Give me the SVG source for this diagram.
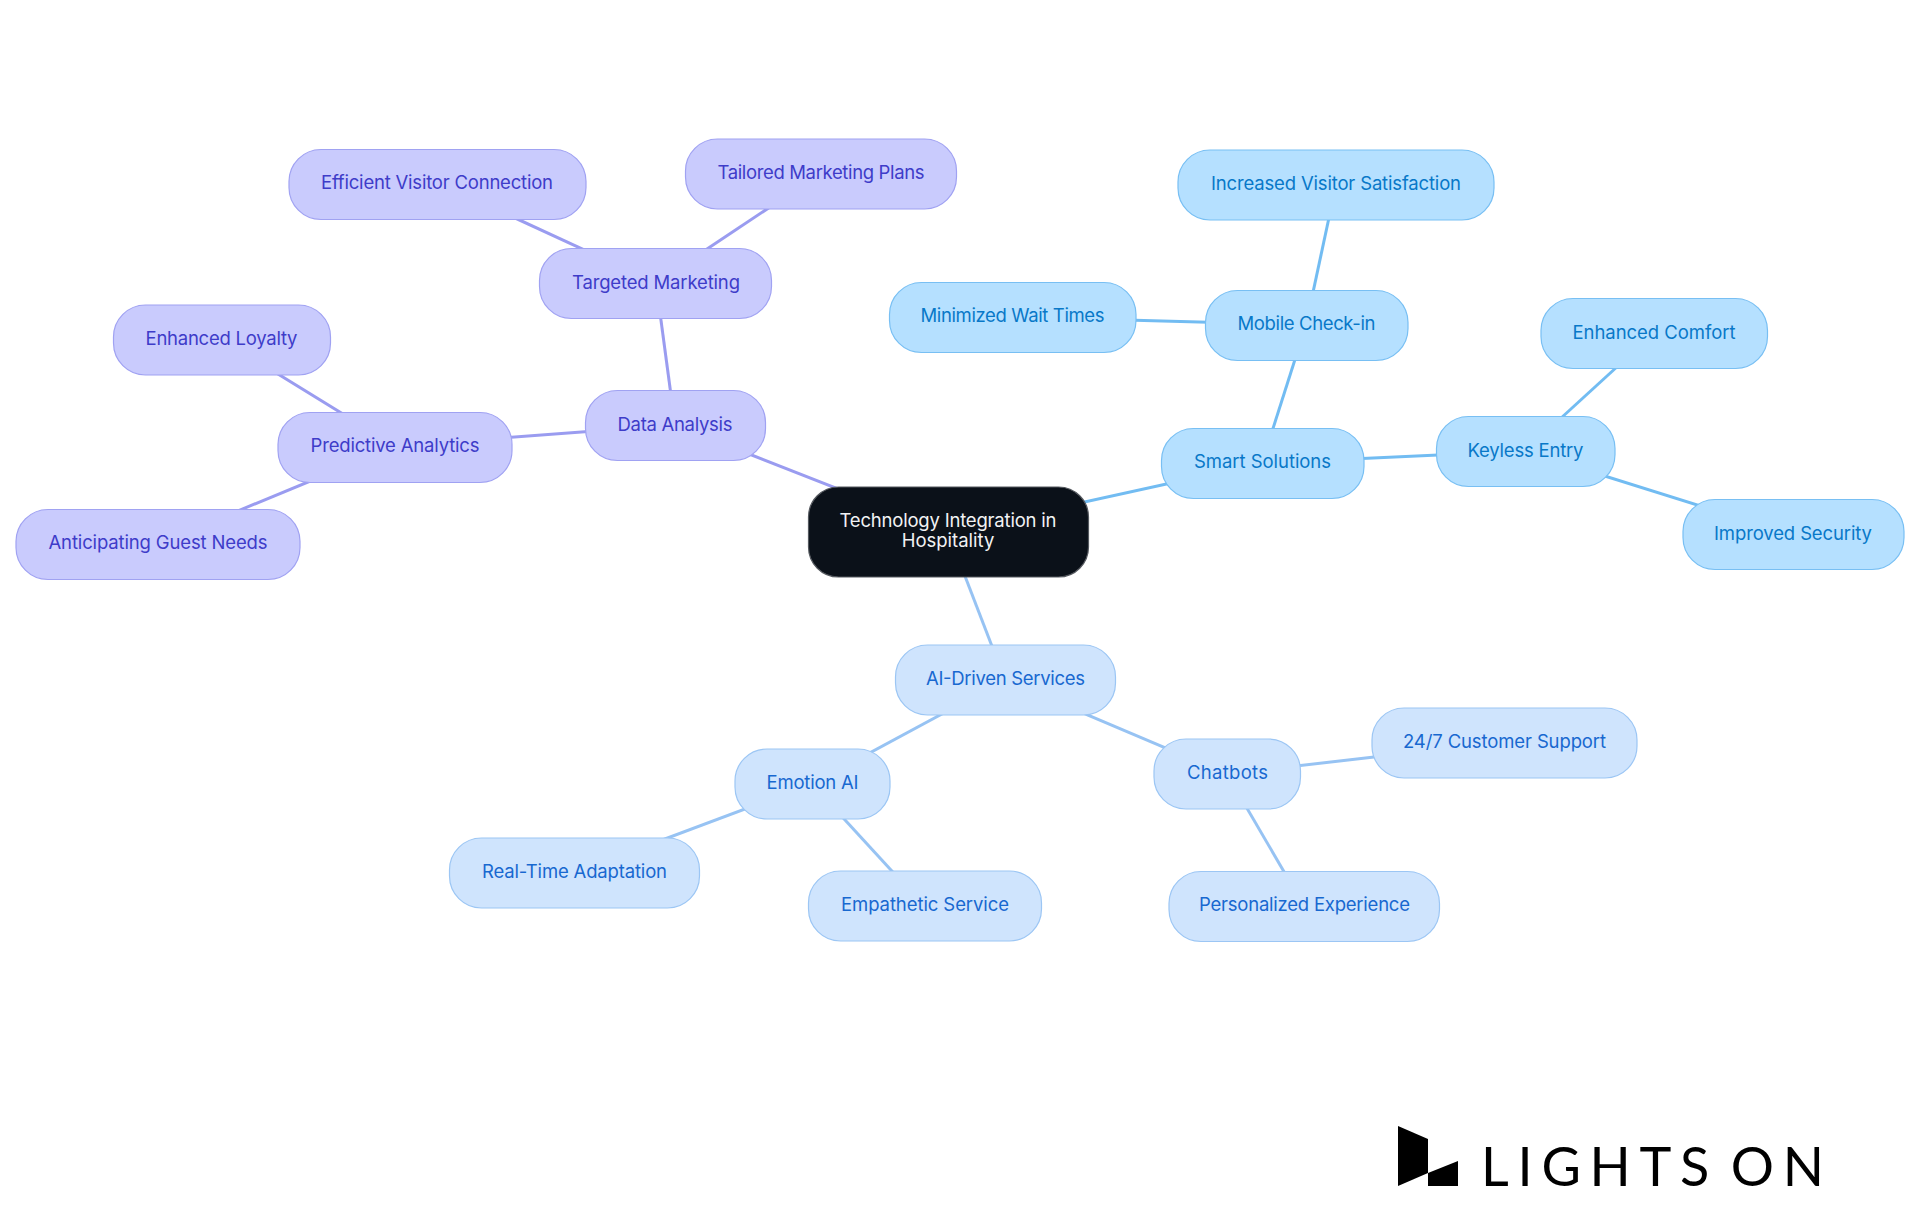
<svg xmlns="http://www.w3.org/2000/svg" width="1920" height="1215" viewBox="0 0 1920 1215">
<style>
text{font-family:"Inter","Liberation Sans",sans-serif;font-size:18.5px;text-anchor:middle}
.p rect{fill:#c9cbfd;stroke:#a0a2f2}.p text{fill:#3e3cc9}
.m rect{fill:#cfe4fd;stroke:#9cc6f4}.m text{fill:#1868d0}
.l rect{fill:#b5e0ff;stroke:#78bff3}.l text{fill:#0878c8}
.r rect{fill:#0b1119;stroke:#55595f}.r text{fill:#f2f3f4}
rect{stroke-width:1.2;rx:32px;ry:32px}
.r rect{rx:30px;ry:30px}
#connectors line{stroke-width:3;fill:none}
.ep{stroke:#9a9cf0}.em{stroke:#97c3f3}.el{stroke:#72bcf2}
#logo text{font-family:"Lato","Liberation Sans",sans-serif;font-size:54px;text-anchor:start;fill:#000;word-spacing:-10px}
</style>
<rect x="0" y="0" width="1920" height="1215" style="fill:#fff;stroke:none;rx:0;ry:0"/>
<g id="connectors">
<line class="ep" x1="948" y1="532" x2="675" y2="425"/>
<line class="ep" x1="675" y1="425" x2="656" y2="283"/>
<line class="ep" x1="675" y1="425" x2="395" y2="446"/>
<line class="ep" x1="656" y1="283" x2="437" y2="182"/>
<line class="ep" x1="656" y1="283" x2="821" y2="173"/>
<line class="ep" x1="395" y1="446" x2="221" y2="339"/>
<line class="ep" x1="395" y1="446" x2="158" y2="544"/>
<line class="el" x1="948" y1="532" x2="1262" y2="463"/>
<line class="el" x1="1262" y1="463" x2="1306" y2="325"/>
<line class="el" x1="1262" y1="463" x2="1525" y2="451"/>
<line class="el" x1="1306" y1="325" x2="1336" y2="185"/>
<line class="el" x1="1306" y1="325" x2="1012" y2="317"/>
<line class="el" x1="1525" y1="451" x2="1654" y2="333"/>
<line class="el" x1="1525" y1="451" x2="1793" y2="535"/>
<line class="em" x1="948" y1="532" x2="1005" y2="680"/>
<line class="em" x1="1005" y1="680" x2="812" y2="784"/>
<line class="em" x1="1005" y1="680" x2="1227" y2="774"/>
<line class="em" x1="812" y1="784" x2="574" y2="873"/>
<line class="em" x1="812" y1="784" x2="924" y2="906"/>
<line class="em" x1="1227" y1="774" x2="1504" y2="742"/>
<line class="em" x1="1227" y1="774" x2="1304" y2="906"/>
</g>
<g id="root" class="r"><rect x="808.5" y="487" width="280" height="90"/><text x="948" y="527" textLength="217">Technology Integration in</text><text x="948" y="546.500">Hospitality</text></g>
<g id="data-analysis" class="p"><rect x="585.500" y="390.500" width="180" height="70"/><text x="675" y="431" textLength="115">Data Analysis</text></g>
<g id="targeted-marketing" class="p"><rect x="539.500" y="248.500" width="232" height="70"/><text x="656" y="288.500" textLength="168">Targeted Marketing</text></g>
<g id="efficient-visitor" class="p"><rect x="289" y="149.500" width="297" height="70"/><text x="437" y="188.500" textLength="232">Efficient Visitor Connection</text></g>
<g id="tailored-marketing" class="p"><rect x="685.500" y="139" width="271" height="70"/><text x="821" y="179" textLength="207">Tailored Marketing Plans</text></g>
<g id="predictive-analytics" class="p"><rect x="278" y="412.500" width="234" height="70"/><text x="395" y="452" textLength="169">Predictive Analytics</text></g>
<g id="enhanced-loyalty" class="p"><rect x="113.500" y="305" width="217" height="70"/><text x="221.500" y="345" textLength="152">Enhanced Loyalty</text></g>
<g id="anticipating" class="p"><rect x="16" y="509.500" width="284" height="70"/><text x="158" y="549" textLength="219">Anticipating Guest Needs</text></g>
<g id="smart-solutions" class="l"><rect x="1161.500" y="428.500" width="202.500" height="70"/><text x="1262.500" y="467.500" textLength="137">Smart Solutions</text></g>
<g id="mobile-checkin" class="l"><rect x="1205.500" y="290.500" width="202.500" height="70"/><text x="1306.500" y="330" textLength="138">Mobile Check-in</text></g>
<g id="increased-satisfaction" class="l"><rect x="1178" y="150" width="316" height="70"/><text x="1336" y="190" textLength="250">Increased Visitor Satisfaction</text></g>
<g id="minimized-wait" class="l"><rect x="889.500" y="282.500" width="246.500" height="70"/><text x="1012.500" y="321.500" textLength="184">Minimized Wait Times</text></g>
<g id="keyless-entry" class="l"><rect x="1436.500" y="416.500" width="178.500" height="70"/><text x="1525.500" y="456.500" textLength="116">Keyless Entry</text></g>
<g id="enhanced-comfort" class="l"><rect x="1541" y="298.500" width="226.500" height="70"/><text x="1654" y="338.500" textLength="163">Enhanced Comfort</text></g>
<g id="improved-security" class="l"><rect x="1683" y="499.500" width="221" height="70"/><text x="1793" y="539.500" textLength="158">Improved Security</text></g>
<g id="ai-driven" class="m"><rect x="895.500" y="645" width="220" height="70"/><text x="1005.500" y="685" textLength="159">AI-Driven Services</text></g>
<g id="emotion-ai" class="m"><rect x="735" y="749" width="155" height="70"/><text x="812.500" y="789" textLength="92">Emotion AI</text></g>
<g id="chatbots" class="m"><rect x="1154" y="739" width="146.500" height="70"/><text x="1227.500" y="779" textLength="81">Chatbots</text></g>
<g id="support" class="m"><rect x="1372" y="708" width="265" height="70"/><text x="1504.500" y="747.500" textLength="203">24/7 Customer Support</text></g>
<g id="personalized" class="m"><rect x="1169" y="871.500" width="270.500" height="70"/><text x="1304.500" y="910.500" textLength="211">Personalized Experience</text></g>
<g id="real-time" class="m"><rect x="449.500" y="838" width="250" height="70"/><text x="574.500" y="877.500" textLength="185">Real-Time Adaptation</text></g>
<g id="empathetic" class="m"><rect x="808.500" y="871" width="233" height="70"/><text x="925" y="911" textLength="168">Empathetic Service</text></g>
<g id="logo"><polygon points="1398,1126 1428,1139 1428,1173 1398,1186"/><polygon points="1428,1173 1458,1161 1458,1186 1428,1186"/><text x="1481" y="1186" textLength="343">LIGHTS ON</text></g>
</svg>
